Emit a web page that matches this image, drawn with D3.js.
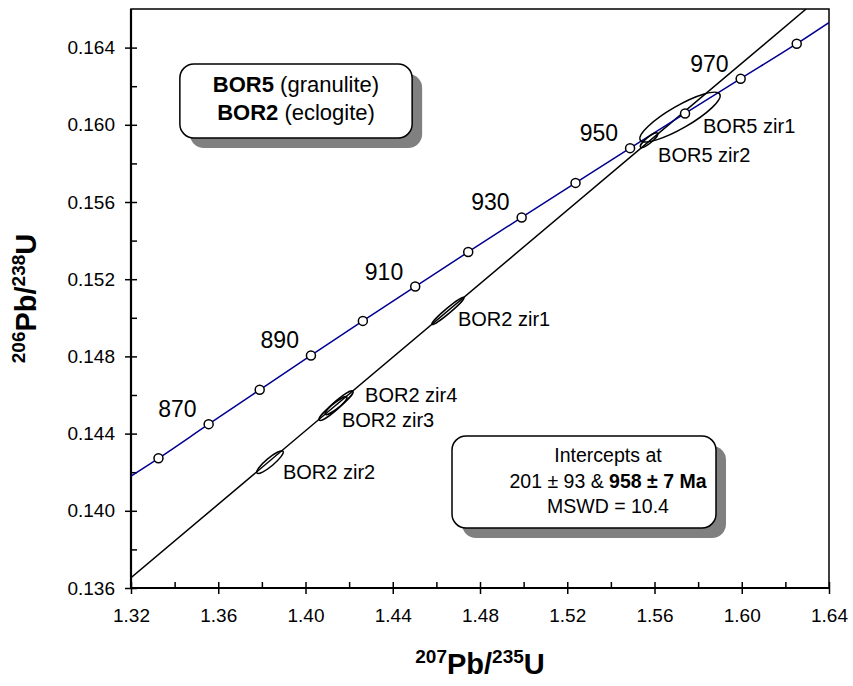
<!DOCTYPE html>
<html>
<head>
<meta charset="utf-8">
<script src="https://cdn.jsdelivr.net/npm/d3@7"></script>
<style>
  body { margin: 0; background: #fff; }
  text { font-family: "Liberation Sans", Arial, sans-serif; fill: #000; }
</style>
</head>
<body>
<svg id="chart" width="853" height="686"></svg>
<script>
// concordia ages (Ma) and their ratios
var ages = [860, 870, 880, 890, 900, 910, 920, 930, 940, 950, 960, 970, 980];
var pb207u235 = [1.3326, 1.3556, 1.3790, 1.4025, 1.4263, 1.4503, 1.4746, 1.4991, 1.5238, 1.5488, 1.5740, 1.5995, 1.6252];
var pb206u238 = [0.14272, 0.14449, 0.14627, 0.14805, 0.14984, 0.15162, 0.15341, 0.15520, 0.15699, 0.15879, 0.16059, 0.16239, 0.16420];
var labelledAges = [870, 890, 910, 930, 950, 970];

// concordia curve where it meets the frame
var concordiaEndX = [1.32, 1.64];
var concordiaEndY = [0.1418, 0.1653];

// discordia chord (201 and 958 Ma intercepts)
var discordiaX = [1.32, 1.6295];
var discordiaY = [0.13653, 0.166];

// analyses: centre, error half-extent, correlation
var spotNames = ["BOR5 zir1", "BOR5 zir2", "BOR2 zir1", "BOR2 zir4", "BOR2 zir3", "BOR2 zir2"];
var spotX = [1.5717, 1.5575, 1.4653, 1.4154, 1.4126, 1.3837];
var spotY = [0.1604, 0.1592, 0.15036, 0.14560, 0.14530, 0.14252];
var spotSx = [0.0184, 0.0040, 0.0074, 0.0064, 0.0064, 0.0061];
var spotSy = [0.00129, 0.000385, 0.000706, 0.000616, 0.000616, 0.000588];
var spotRho = [0.86, 0.86, 0.97, 0.93, 0.93, 0.89];

var xMajor = [1.32, 1.36, 1.40, 1.44, 1.48, 1.52, 1.56, 1.60, 1.64];
var xMinor = [1.34, 1.38, 1.42, 1.46, 1.50, 1.54, 1.58, 1.62];
var yMajor = [0.136, 0.140, 0.144, 0.148, 0.152, 0.156, 0.160, 0.164];
var yMinor = [0.138, 0.142, 0.146, 0.150, 0.154, 0.158, 0.162];

(function() {
  var svg = d3.select("#chart");
  var pL = 131, pR = 829, pT = 9, pB = 588;

  var x = d3.scaleLinear().domain([1.32, 1.64]).range([pL, pR]);
  var y = d3.scaleLinear().domain([0.136, 0.166]).range([pB, pT]);

  svg.append("clipPath").attr("id", "plot")
    .append("rect").attr("x", pL).attr("y", pT)
    .attr("width", pR - pL).attr("height", pB - pT);

  // axes: outward major ticks with labels, inward ticks for all
  var fmtX = d3.format(".2f"), fmtY = d3.format(".3f");

  var xOut = svg.append("g").attr("transform", "translate(0," + pB + ")")
    .call(d3.axisBottom(x).tickValues(xMajor).tickSize(6).tickPadding(15).tickFormat(fmtX));
  var xIn = svg.append("g").attr("transform", "translate(0," + pB + ")")
    .call(d3.axisTop(x).tickValues(xMajor.concat(xMinor)).tickSize(6).tickFormat(""));
  var yOut = svg.append("g").attr("transform", "translate(" + pL + ",0)")
    .call(d3.axisLeft(y).tickValues(yMajor).tickSize(6).tickPadding(10).tickFormat(fmtY));
  var yIn = svg.append("g").attr("transform", "translate(" + pL + ",0)")
    .call(d3.axisRight(y).tickValues(yMajor.concat(yMinor)).tickSize(6).tickFormat(""));

  [xOut, xIn, yOut, yIn].forEach(function(g) {
    g.select(".domain").remove();
    g.selectAll("line").attr("stroke", "#000").attr("stroke-width", 1.5);
    g.selectAll("text").attr("font-size", 19).attr("font-family", null);
  });

  // frame
  svg.append("rect")
    .attr("x", pL).attr("y", pT)
    .attr("width", pR - pL).attr("height", pB - pT)
    .attr("fill", "none").attr("stroke", "#000").attr("stroke-width", 1.5);
  svg.append("path")
    .attr("d", "M" + pL + "," + pT + "V" + pB + "H" + pR)
    .attr("fill", "none").attr("stroke", "#000").attr("stroke-width", 2.2);

  var plot = svg.append("g").attr("clip-path", "url(#plot)");

  // discordia
  var line = d3.line().x(function(d) { return x(d[0]); }).y(function(d) { return y(d[1]); });
  plot.append("path")
    .attr("d", line(d3.zip(discordiaX, discordiaY)))
    .attr("fill", "none").attr("stroke", "#000").attr("stroke-width", 1.5);

  // concordia
  var curve = [[concordiaEndX[0], concordiaEndY[0]]]
    .concat(d3.zip(pb207u235, pb206u238))
    .concat([[concordiaEndX[1], concordiaEndY[1]]]);
  plot.append("path")
    .attr("d", line.curve(d3.curveMonotoneX)(curve))
    .attr("fill", "none").attr("stroke", "#000090").attr("stroke-width", 1.5);

  // error ellipses
  var kx = (x(1.64) - x(1.32)) / 0.32;
  var ky = (y(0.136) - y(0.166)) / 0.03;
  spotNames.forEach(function(name, i) {
    var sx = kx * spotSx[i], sy = ky * spotSy[i];
    var a = sx * sx, d = sy * sy, b = -spotRho[i] * sx * sy;
    var m = (a + d) / 2, r = Math.sqrt((a - d) * (a - d) / 4 + b * b);
    var ang = 0.5 * Math.atan2(2 * b, a - d) * 180 / Math.PI;
    plot.append("ellipse")
      .attr("transform", "translate(" + x(spotX[i]) + "," + y(spotY[i]) + ") rotate(" + ang + ")")
      .attr("rx", Math.sqrt(m + r)).attr("ry", Math.sqrt(Math.max(m - r, 0.5)))
      .attr("fill", "none").attr("stroke", "#000").attr("stroke-width", 1.5);
  });

  // concordia age markers
  plot.selectAll(".age")
    .data(d3.range(ages.length))
    .enter().append("circle")
      .attr("cx", function(i) { return x(pb207u235[i]); })
      .attr("cy", function(i) { return y(pb206u238[i]); })
      .attr("r", 4.5)
      .attr("fill", "#fff").attr("stroke", "#000").attr("stroke-width", 1.5);

  svg.selectAll(".ageLabel")
    .data(labelledAges)
    .enter().append("text")
      .attr("x", function(t) { return x(pb207u235[ages.indexOf(t)]) - 12; })
      .attr("y", function(t) { return y(pb206u238[ages.indexOf(t)]) - 7; })
      .attr("text-anchor", "end")
      .attr("font-size", 23)
      .text(function(t) { return t; });

  // spot labels, offset from each ellipse centre
  var labelOffset = [[23, 16], [9, 22], [10, 15], [26, -1], [9, 18], [13, 17]];
  spotNames.forEach(function(name, i) {
    svg.append("text")
      .attr("x", x(spotX[i]) + labelOffset[i][0])
      .attr("y", y(spotY[i]) + labelOffset[i][1])
      .attr("font-size", 20)
      .text(name);
  });

  // rounded text boxes with drop shadow
  function textBox(cx, baselines, lines, size, box) {
    var g = svg.append("g");
    var shadow = g.append("rect"), frame = g.append("rect");
    var w = 0;
    lines.forEach(function(parts, k) {
      var t = g.append("text").attr("x", cx).attr("y", baselines[k])
        .attr("text-anchor", "middle").attr("font-size", size);
      parts.forEach(function(p) {
        t.append("tspan").attr("font-weight", p[1] ? "bold" : null).text(p[0]);
      });
      w = Math.max(w, t.node().getComputedTextLength());
    });
    var bx = box.left != null ? box.left : cx - w / 2 - box.pad;
    var bw = box.right != null ? box.right - bx : w + 2 * box.pad;
    var bh = box.bottom - box.top;
    shadow.attr("x", bx + 10).attr("y", box.top + 10).attr("width", bw).attr("height", bh)
      .attr("rx", 14).attr("fill", "#808080");
    frame.attr("x", bx).attr("y", box.top).attr("width", bw).attr("height", bh)
      .attr("rx", 14).attr("fill", "#fff").attr("stroke", "#000").attr("stroke-width", 1.5);
  }

  textBox(296, [92, 120],
    [[["BOR5", true], [" (granulite)", false]], [["BOR2", true], [" (eclogite)", false]]],
    22, { top: 64, bottom: 138, pad: 33 });

  textBox(608, [462, 488, 513],
    [[["Intercepts at", false]],
     [["201 \u00b1 93 & ", false], ["958 \u00b1 7 Ma", true]],
     [["MSWD = 10.4", false]]],
    19.5, { top: 436, bottom: 528, left: 452, right: 716 });

  // axis titles with superscript mass numbers
  function isoTitle(t, a, b, c, d) {
    t.attr("text-anchor", "middle").attr("font-weight", "bold").attr("font-size", 29);
    t.append("tspan").attr("font-size", 19).attr("dy", -11).text(a);
    t.append("tspan").attr("dy", 11).text(b);
    t.append("tspan").attr("font-size", 19).attr("dy", -11).text(c);
    t.append("tspan").attr("dy", 11).text(d);
  }
  isoTitle(svg.append("text").attr("x", (pL + pR) / 2).attr("y", 674), "207", "Pb/", "235", "U");
  isoTitle(svg.append("text").attr("transform", "translate(36," + (pT + pB) / 2 + ") rotate(-90)"),
    "206", "Pb/", "238", "U");
})();
</script>
</body>
</html>
